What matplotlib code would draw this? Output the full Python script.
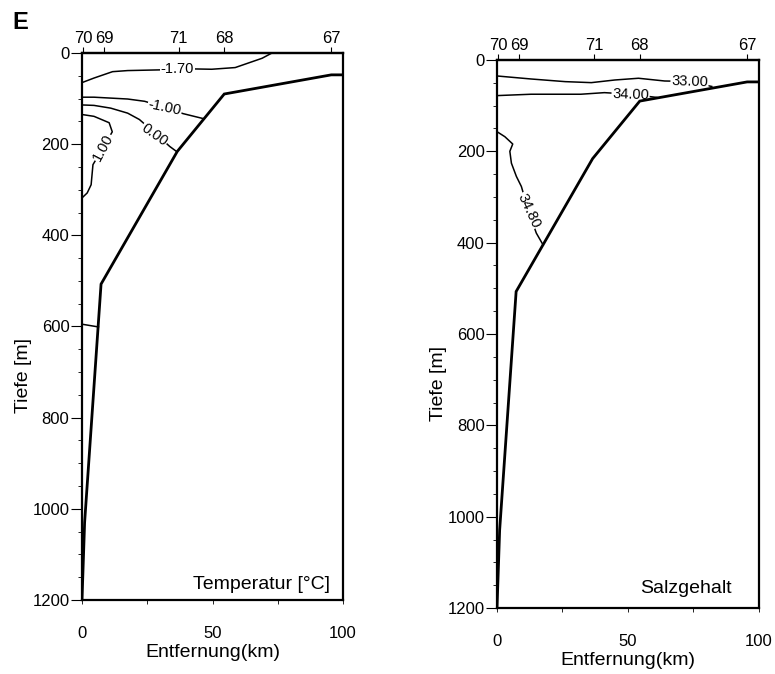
import matplotlib
matplotlib.use("Agg")
import matplotlib.pyplot as plt
from matplotlib.ticker import MultipleLocator

plt.rcParams['font.family'] = ['Liberation Sans', 'DejaVu Sans']

# Station positions along the section (km) and their numbers
station_km = [0.5, 8.5, 37, 54.5, 95.5]
station_labels = ['70', '69', '71', '68', '67']

# Sea floor profile
bottom_km = [100, 95.5, 54.5, 36.5, 7.3, 1.0, 0]
bottom_depth = [48, 48, 90, 216, 507, 1030, 1200]

# Temperature isolines (km, m)
t_m170_km = [0, 4.6, 11.7, 17.5, 30.4, 43, 49.7, 58.7, 69, 72.8]
t_m170_z = [65, 55, 41, 38.6, 37, 35, 35.7, 32, 11.6, 0]
t_m100_km = [0, 4.6, 17.5, 24, 31, 38.7, 46.5]
t_m100_z = [97, 97, 101, 106, 118, 133, 144]
t_000_km = [0, 4.6, 11, 17.5, 22, 28, 33.6, 36.2]
t_000_z = [114, 115, 121, 132, 146, 176, 205, 216]
t_100_km = [0, 4.6, 10.4, 11.6, 8, 4.2, 3.5, 2.0, 0]
t_100_z = [135, 139, 153, 173, 208, 245, 289, 307, 318]
t_deep_km = [0, 6.3]
t_deep_z = [595, 601]

# Salinity isolines (km, m)
s_3300_km = [0, 13, 26, 36, 45, 54, 64, 73, 82]
s_3300_z = [35, 41.6, 47.4, 49.6, 43.8, 40, 46, 47, 58]
s_3400_km = [0, 13, 32, 41, 51, 61]
s_3400_z = [78, 75, 75, 71.5, 75, 82]
s_3480_km = [0, 3, 6, 4.9, 5.5, 7.4, 9.3, 12, 15, 17.6]
s_3480_z = [157, 168, 184, 200, 226, 255, 277, 330, 379, 405]


def setup_panel(ax, title):
    ax.set_xlim(0, 100)
    ax.set_ylim(1200, 0)
    ax.set_xticks([0, 50, 100])
    ax.xaxis.set_minor_locator(MultipleLocator(25))
    ax.yaxis.set_major_locator(MultipleLocator(200))
    ax.yaxis.set_minor_locator(MultipleLocator(50))
    ax.tick_params(axis='y', which='major', direction='out', length=8,
                   width=0.8, labelsize=12, pad=1)
    ax.tick_params(axis='y', which='minor', direction='out', length=3, width=0.6)
    ax.tick_params(axis='x', which='major', direction='out', length=3,
                   width=0.6, labelsize=12, pad=16)
    ax.tick_params(axis='x', which='minor', direction='out', length=3, width=0.6)
    for sp in ax.spines.values():
        sp.set_linewidth(1.6)
    ax.set_xlabel('Entfernung(km)', fontsize=14)
    ax.set_ylabel('Tiefe [m]', fontsize=14)
    ax.xaxis.set_label_coords(0.5, -0.08)
    ax.yaxis.set_label_coords(-0.19, 0.41)

    top = ax.secondary_xaxis('top')
    top.set_xticks(station_km)
    top.set_xticklabels(station_labels)
    top.tick_params(direction='out', length=4, width=0.8, labelsize=12, pad=1)
    top.spines['top'].set_linewidth(1.6)

    # sea floor drawn above the isoline labels
    ax.plot(bottom_km, bottom_depth, color='black', lw=2.0,
            solid_joinstyle='miter', zorder=6)
    ax.text(title[1], title[2], title[0], ha='right', va='center', fontsize=14)


def isoline(ax, x, z, label=None, pos=None, rot=0):
    ax.plot(x, z, color='black', lw=1.1, zorder=3)
    if label:
        ax.text(pos[0], pos[1], label, ha='center', va='center', fontsize=10.5,
                rotation=rot, rotation_mode='anchor', zorder=5,
                bbox=dict(facecolor='white', edgecolor='none', pad=0.5))


fig = plt.figure(figsize=(7.75, 6.74), dpi=100)
ax_t = fig.add_axes([0.1058, 0.1098, 0.3368, 0.8116])
ax_s = fig.add_axes([0.6413, 0.0979, 0.3380, 0.8131])

setup_panel(ax_t, ('Temperatur [°C]', 95, 1165))
isoline(ax_t, t_m170_km, t_m170_z, '-1.70', (36.5, 36), 0)
isoline(ax_t, t_m100_km, t_m100_z, '-1.00', (31.7, 120), -12)
isoline(ax_t, t_000_km, t_000_z, '0.00', (27.8, 179), -35)
isoline(ax_t, t_100_km, t_100_z, '1.00', (8.1, 208), 62)
isoline(ax_t, t_deep_km, t_deep_z)

setup_panel(ax_s, ('Salzgehalt', 89.7, 1157))
isoline(ax_s, s_3300_km, s_3300_z, '33.00', (73.5, 47), -2)
isoline(ax_s, s_3400_km, s_3400_z, '34.00', (51, 75), -2)
isoline(ax_s, s_3480_km, s_3480_z, '34.80', (12, 330), -65)

fig.text(0.026, 0.967, 'E', fontsize=17, fontweight='bold', ha='center', va='center')

fig.savefig('out.png', dpi=100)
